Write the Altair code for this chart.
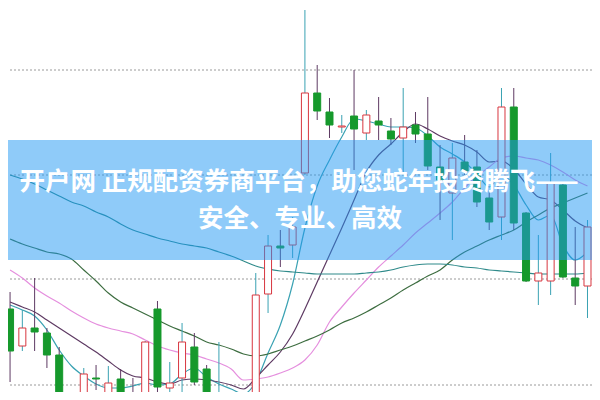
import altair as alt
import pandas as pd

# ---- data (price units) ----
opens = [10.91, 10.54, 10.72, 10.67, 10.45, 9.90, 9.98, 10.22, 9.98, 10.21,
         10.02, 9.98, 10.91, 10.12, 10.22, 10.53, 10.31, 10.02, 10.03, 9.88,
         9.95, 11.06, 11.54, 11.55, 12.27, 13.07, 12.88, 12.73, 12.84, 12.67,
         12.79, 12.69, 12.62, 12.75, 12.66, 12.33, 12.07, 12.38, 12.33, 12.02,
         11.83, 12.93, 11.87, 11.19, 11.19, 12.15, 11.22, 11.14]
closes = [10.49, 10.72, 10.68, 10.45, 9.98, 10.02, 10.26, 10.21, 10.17, 9.98,
          9.96, 10.58, 10.13, 10.17, 10.58, 10.18, 10.03, 10.03, 9.96, 9.98,
          11.05, 11.54, 11.52, 11.73, 13.07, 12.89, 12.75, 12.74, 12.71, 12.85,
          12.75, 12.61, 12.73, 12.66, 12.34, 12.20, 12.42, 12.29, 11.98, 11.78,
          12.93, 11.77, 11.19, 11.27, 12.17, 11.23, 11.14, 11.73]
highs = [11.08, 10.90, 11.22, 10.72, 10.53, 10.07, 10.32, 10.35, 10.34, 10.31,
         10.22, 10.59, 10.99, 10.38, 10.77, 10.67, 10.35, 10.58, 10.05, 10.04,
         11.27, 11.65, 11.70, 11.83, 13.90, 13.35, 13.02, 12.85, 13.30, 12.90,
         13.03, 12.82, 13.12, 12.88, 13.03, 12.55, 12.57, 12.65, 12.50, 12.10,
         13.12, 13.12, 11.88, 11.65, 12.47, 12.17, 11.73, 11.80]
lows = [10.18, 10.49, 10.49, 10.32, 9.95, 9.88, 9.95, 10.10, 9.95, 9.95,
        9.94, 9.95, 10.08, 10.08, 10.08, 10.15, 10.00, 9.98, 9.94, 9.85,
        9.92, 10.87, 11.33, 11.42, 12.25, 12.80, 12.62, 12.67, 12.30, 12.60,
        12.60, 12.55, 12.28, 12.57, 12.30, 11.80, 11.60, 12.25, 11.93, 11.70,
        11.60, 11.70, 11.18, 10.95, 11.05, 11.22, 10.95, 10.82]

ma5 = [10.95, 10.90, 10.84, 10.70, 10.50, 10.34, 10.24, 10.16, 10.12, 10.12,
       10.14, 10.17, 10.15, 10.16, 10.26, 10.32, 10.23, 10.16, 10.11, 10.06,
       10.18, 10.47, 10.75, 11.16, 11.72, 12.14, 12.40, 12.63, 12.81, 12.79,
       12.76, 12.73, 12.73, 12.72, 12.64, 12.53, 12.46, 12.38, 12.26, 12.13,
       12.25, 12.15, 11.95, 11.80, 11.85, 11.55, 11.40, 11.48]
ma10 = [10.98, 10.93, 10.88, 10.80, 10.72, 10.64, 10.56, 10.48, 10.39, 10.30,
        10.24, 10.22, 10.18, 10.16, 10.20, 10.21, 10.20, 10.18, 10.15, 10.11,
        10.22, 10.35, 10.48, 10.66, 10.91, 11.18, 11.45, 11.72, 12.00, 12.28,
        12.45, 12.56, 12.68, 12.76, 12.71, 12.64, 12.59, 12.55, 12.48, 12.38,
        12.39, 12.31, 12.16, 12.03, 12.00, 11.90, 11.79, 11.72]
ma20 = [11.30, 11.22, 11.12, 11.04, 10.97, 10.89, 10.82, 10.76, 10.72, 10.69,
        10.66, 10.60, 10.54, 10.50, 10.47, 10.45, 10.41, 10.37, 10.31, 10.20,
        10.21, 10.23, 10.27, 10.32, 10.40, 10.55, 10.78, 10.93, 11.07, 11.20,
        11.33, 11.44, 11.55, 11.67, 11.77, 11.87, 11.98, 12.12, 12.24, 12.33,
        12.42, 12.44, 12.42, 12.40, 12.35, 12.28, 12.20, 12.14]
ma30 = [11.61, 11.56, 11.52, 11.48, 11.46, 11.41, 11.30, 11.19, 11.07, 10.98,
        10.92, 10.86, 10.80, 10.74, 10.69, 10.64, 10.58, 10.55, 10.51, 10.46,
        10.44, 10.46, 10.50, 10.54, 10.59, 10.64, 10.70, 10.77, 10.82, 10.88,
        10.95, 11.02, 11.10, 11.17, 11.24, 11.30, 11.40, 11.48, 11.54, 11.60,
        11.65, 11.70, 11.78, 11.85, 11.92, 11.97, 12.02, 12.07]
ma60 = [12.25, 12.21, 12.16, 12.10, 12.04, 11.98, 11.94, 11.88, 11.83, 11.76,
        11.70, 11.66, 11.62, 11.59, 11.56, 11.54, 11.52, 11.48, 11.44, 11.39,
        11.34, 11.31, 11.29, 11.28, 11.27, 11.26, 11.26, 11.26, 11.26, 11.27,
        11.28, 11.30, 11.33, 11.35, 11.36, 11.36, 11.35, 11.33, 11.32, 11.30,
        11.29, 11.28, 11.27, 11.26, 11.26, 11.26, 11.26, 11.27]

grid_levels = [13.30, 12.25, 11.21, 10.15]
ma_names = ["MA5", "MA10", "MA20", "MA30", "MA60"]
ma_colors = ["#3aa2b3", "#5e3a63", "#e58fde", "#3d6d40", "#2f8a8a"]
title_lines = ["开户网 正规配资券商平台，助您蛇年投资腾飞——", "安全、专业、高效"]

UP, DOWN = "#d8363f", "#16992c"

# ---- tables ----
n = len(opens)
candles = pd.DataFrame({"i": list(range(n)), "open": opens, "close": closes,
                        "high": highs, "low": lows})
candles["dir"] = ["up" if c >= o else "down" for o, c in zip(opens, closes)]

ma_rows = []
for name, series in zip(ma_names, [ma5, ma10, ma20, ma30, ma60]):
    for k, v in enumerate(series):
        ma_rows.append({"i": k, "v": v, "ma": name})
ma_df = pd.DataFrame(ma_rows)

W, H = 584, 384
xs = alt.Scale(domain=[0.24, 46.96], nice=False, zero=False)
ys = alt.Scale(domain=[10.08, 13.92], nice=False, zero=False)

grid = alt.Chart(pd.DataFrame({"g": grid_levels})).mark_rule(
    color="#9a9a9a", strokeDash=[2, 2], strokeWidth=1
).encode(y=alt.Y("g:Q", scale=ys, axis=None))

lines = alt.Chart(ma_df).mark_line(strokeWidth=1.2, interpolate="monotone", clip=True).encode(
    x=alt.X("i:Q", scale=xs, axis=None),
    y=alt.Y("v:Q", scale=ys, axis=None),
    color=alt.Color("ma:N", scale=alt.Scale(domain=ma_names, range=ma_colors), legend=None),
    detail="ma:N",
)

dir_color = alt.Scale(domain=["up", "down"], range=[UP, DOWN])
wicks = alt.Chart(candles).mark_rule(strokeWidth=1, clip=True).encode(
    x=alt.X("i:Q", scale=xs, axis=None),
    y=alt.Y("high:Q", scale=ys, axis=None),
    y2="low:Q",
    color=alt.Color("dir:N", scale=dir_color, legend=None),
)

bodies = alt.Chart(candles).mark_bar(size=7, strokeWidth=1, clip=True).encode(
    x=alt.X("i:Q", scale=xs, axis=None),
    y=alt.Y("open:Q", scale=ys, axis=None),
    y2="close:Q",
    fill=alt.Fill("dir:N", scale=alt.Scale(domain=["up", "down"], range=["#ffffff", DOWN]), legend=None),
    stroke=alt.Stroke("dir:N", scale=dir_color, legend=None),
)

banner = alt.Chart(pd.DataFrame({"b": [0]})).mark_rect(
    color="#1f97f3", opacity=0.5
).encode(x=alt.value(0), x2=alt.value(W), y=alt.value(132), y2=alt.value(252))

font = "Noto Sans CJK SC"
t1 = alt.Chart(pd.DataFrame({"t": [title_lines[0]]})).mark_text(
    font=font, fontSize=25.5, fontWeight="bold", color="white", align="center", baseline="middle"
).encode(text="t:N", x=alt.value(291), y=alt.value(174))
t2 = alt.Chart(pd.DataFrame({"t": [title_lines[1]]})).mark_text(
    font=font, fontSize=25.5, fontWeight="bold", color="white", align="center", baseline="middle"
).encode(text="t:N", x=alt.value(292), y=alt.value(211))

chart = alt.layer(grid, lines, wicks, bodies, banner, t1, t2).properties(
    width=W, height=H, padding=0, autosize=alt.AutoSizeParams(type="none"),
    background="white",
).configure_view(stroke=None)

chart.save("out.html", embed_options={"renderer": "svg", "actions": False})
